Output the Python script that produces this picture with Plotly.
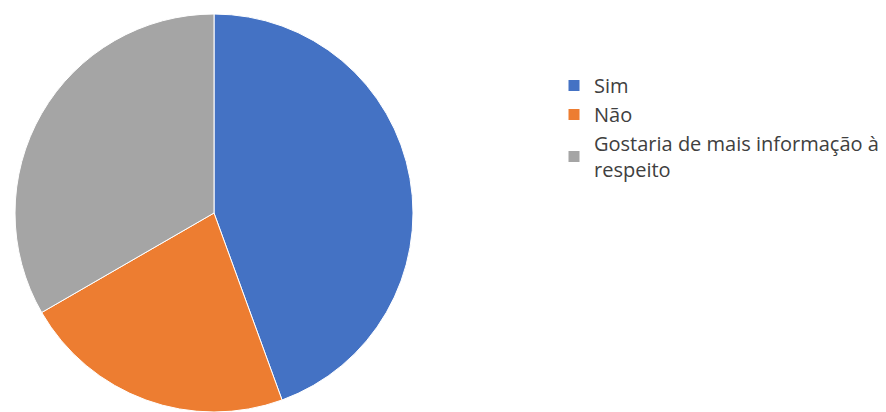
import plotly.graph_objects as go

# Survey answers and their shares
labels = ["Sim", "Não", "Gostaria de mais informação à<br>respeito"]
values = [8, 4, 6]
colors = ["#4472C4", "#ED7D31", "#A5A5A5"]

W, H = 886, 412

fig = go.Figure(
    go.Pie(
        labels=labels,
        values=values,
        sort=False,
        direction="clockwise",
        rotation=0,
        textinfo="none",
        hoverinfo="label+percent",
        marker=dict(colors=colors, line=dict(color="white", width=1)),
        domain=dict(x=[11 / W, 417 / W], y=[0, 1 - 14 / H]),
    )
)

fig.update_layout(
    width=W,
    height=H,
    margin=dict(l=0, r=0, t=0, b=0),
    paper_bgcolor="white",
    plot_bgcolor="white",
    showlegend=True,
    legend=dict(
        x=554 / W,
        y=1 - 66 / H,
        xanchor="left",
        yanchor="top",
        font=dict(family="Open Sans, sans-serif", size=20, color="#404040"),
        itemwidth=30,
        tracegroupgap=0,
        bgcolor="rgba(0,0,0,0)",
    ),
)

fig.write_html("out.html")
